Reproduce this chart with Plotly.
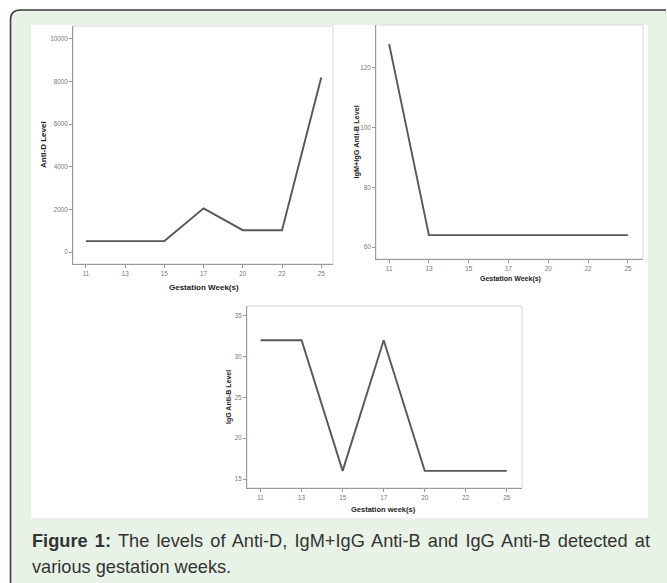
import plotly.graph_objects as go

weeks = ["11", "13", "15", "17", "20", "22", "25"]
anti_d = [512, 512, 512, 2048, 1024, 1024, 8192]
igm_igg_anti_b = [128, 64, 64, 64, 64, 64, 64]
igg_anti_b = [32, 32, 16, 32, 16, 16, 16]

y1_ticks = [0, 2000, 4000, 6000, 8000, 10000]
y2_ticks = [60, 80, 100, 120]
y3_ticks = [15, 20, 25, 30, 35]

caption_bold = "Figure 1:"
caption_line1 = "The levels of Anti-D, IgM+IgG Anti-B and IgG Anti-B detected at"
caption_line2 = "various gestation weeks."

W, H = 667, 583


def X(px):
    return px / W


def Y(py):
    return 1 - py / H


LINE = dict(color="#575757", width=1.9)
AX_COL = "#9a9a9a"
TICKFONT = dict(family="Liberation Sans, Arial", size=6.3, color="#777")

fig = go.Figure()
fig.add_trace(go.Scatter(x=weeks, y=anti_d, mode="lines", line=LINE, xaxis="x", yaxis="y", showlegend=False))
fig.add_trace(go.Scatter(x=weeks, y=igm_igg_anti_b, mode="lines", line=LINE, xaxis="x2", yaxis="y2", showlegend=False))
fig.add_trace(go.Scatter(x=weeks, y=igg_anti_b, mode="lines", line=LINE, xaxis="x3", yaxis="y3", showlegend=False))

panels = [
    # (xdomain px, ydomain px, xrange, yrange, yticks)
    ((73, 333), (26, 264), [-0.33, 6.3], [-563, 10610], y1_ticks),
    ((376, 643), (25, 259), [-0.33, 6.38], [56, 134.4], y2_ticks),
    ((247, 522), (306, 488), [-0.33, 6.37], [13.9, 36.2], y3_ticks),
]

layout_axes = {}
frames = []
for i, (xd, yd, xr, yr, yt) in enumerate(panels):
    sfx = "" if i == 0 else str(i + 1)
    layout_axes["xaxis" + sfx] = dict(
        domain=[X(xd[0]), X(xd[1])], range=xr, type="category",
        anchor="y" + sfx, showgrid=False, zeroline=False,
        showline=True, linecolor=AX_COL, linewidth=1,
        ticks="outside", ticklen=3, tickcolor=AX_COL, tickfont=TICKFONT,
    )
    layout_axes["yaxis" + sfx] = dict(
        domain=[Y(yd[1]), Y(yd[0])], range=yr, tickvals=yt, tickformat="d",
        anchor="x" + sfx, showgrid=False, zeroline=False,
        showline=True, linecolor=AX_COL, linewidth=1,
        ticks="outside", ticklen=3, tickcolor=AX_COL, tickfont=TICKFONT,
    )
    frames.append(dict(type="rect", xref="paper", yref="paper",
                       x0=X(xd[0]), x1=X(xd[1]), y0=Y(yd[1]), y1=Y(yd[0]),
                       line=dict(color="#d8d8d8", width=1), layer="below"))

bg_path = (f"M {X(10.5)},{Y(583)} L {X(10.5)},{Y(20)} Q {X(10.5)},{Y(10)} {X(20.5)},{Y(10)} "
           f"L {X(667)},{Y(10)} L {X(667)},{Y(583)} Z")
shapes = [
    dict(type="path", path=bg_path, xref="paper", yref="paper",
         fillcolor="#e9f2e6", line=dict(width=0), layer="below"),
    dict(type="rect", xref="paper", yref="paper", x0=X(31), x1=X(648), y0=Y(518), y1=Y(25),
         fillcolor="white", line=dict(width=0), layer="below"),
    dict(type="path", xref="paper", yref="paper",
         path=f"M {X(10.5)},{Y(583)} L {X(10.5)},{Y(20)} Q {X(10.5)},{Y(10)} {X(20.5)},{Y(10)} L {X(666)},{Y(10)}",
         line=dict(color="#3c3c3c", width=1.6), layer="below"),
] + frames

TFONT = "Liberation Sans, Arial"
annotations = [
    dict(text="<b>Anti-D Level</b>", x=X(43), y=Y(145), textangle=-90, font=dict(family=TFONT, size=8, color="#222")),
    dict(text="<b>Gestation Week(s)</b>", x=X(204), y=Y(288), font=dict(family=TFONT, size=8, color="#222")),
    dict(text="<b>IgM+IgG Anti-B Level</b>", x=X(355.5), y=Y(142), textangle=-90, font=dict(family=TFONT, size=7.3, color="#222")),
    dict(text="<b>Gestation Week(s)</b>", x=X(510), y=Y(279), font=dict(family=TFONT, size=7, color="#222")),
    dict(text="<b>IgG Anti-B Level</b>", x=X(229), y=Y(397), textangle=-90, font=dict(family=TFONT, size=7, color="#222")),
    dict(text="<b>Gestation week(s)</b>", x=X(384), y=Y(509), font=dict(family=TFONT, size=7.5, color="#222")),
    dict(text=f"<b>{caption_bold}</b> {caption_line1}",
         x=X(30), y=Y(541), xanchor="left", font=dict(family=TFONT, size=18.2, color="#333")),
    dict(text=caption_line2,
         x=X(30), y=Y(567), xanchor="left", font=dict(family=TFONT, size=18.2, color="#333")),
]
for a in annotations:
    a.update(xref="paper", yref="paper", showarrow=False)
    a.setdefault("xanchor", "center")
    a.setdefault("yanchor", "middle")

fig.update_layout(
    width=W, height=H, margin=dict(l=0, r=0, t=0, b=0),
    paper_bgcolor="white", plot_bgcolor="rgba(0,0,0,0)",
    shapes=shapes, annotations=annotations, showlegend=False,
    **layout_axes,
)

# body margin reset + justify the first caption line to the image width (x 30..648)
post = """
document.body.style.margin='0px';
(function(){
  var texts = document.querySelectorAll('text.annotation-text');
  texts.forEach(function(t){
    if (t.textContent.indexOf('Figure 1:') === 0) {
      var b0 = t.getBBox();
      var gaps = (t.textContent.match(/ /g) || []).length;
      var extra = (618 - b0.width) / gaps;
      if (extra > 0 && extra < 6) {
        t.style.wordSpacing = extra + 'px';
        var b1 = t.getBBox();
        var dx = b0.x - b1.x;
        var tr = t.getAttribute('transform') || '';
        t.setAttribute('transform', tr + ' translate(' + dx + ',0)');
      }
    }
  });
})();
"""
fig.write_html("out.html", post_script=post, config={"displayModeBar": False})
